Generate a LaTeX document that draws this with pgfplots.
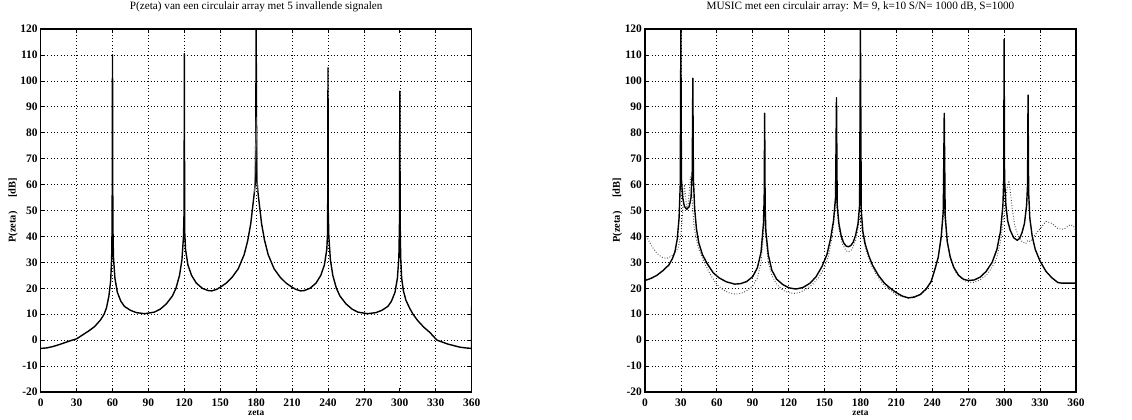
\documentclass[border=0pt]{standalone}
\usepackage{fontspec}
\setmainfont{Liberation Serif}
\usepackage{pgfplots}
\pgfplotsset{compat=1.18}

\pgfplotsset{
  matlab/.style={
    scale only axis,
    width=323.25pt, height=272.25pt,
    xmin=0, xmax=360, ymin=-20, ymax=120,
    xtick={0,30,...,360}, ytick={-20,-10,...,120},
    tick align=inside,
    major tick length=3pt,
    every tick/.style={black, line width=0.5pt},
    axis line style={black, line width=0.9pt},
    grid=major,
    major grid style={black, line width=0.45pt, dash pattern=on 0.5pt off 2pt},
    /pgf/number format/assume math mode=true,
    ticklabel style={font=\bfseries\fontsize{8.6}{9}\selectfont},
    xticklabel style={yshift=-1.5pt},
    yticklabel style={xshift=1.3pt},
    title style={at={(axis description cs:0.5,1)}, anchor=center, yshift=10.5pt,
      font=\fontsize{8.4}{9}\selectfont},
    xlabel style={at={(axis description cs:0.5,0)}, anchor=center, yshift=-15.8pt,
      font=\bfseries\fontsize{7}{8}\selectfont},
    ylabel style={at={(axis description cs:-0.064,0.5)}, anchor=center,
      font=\bfseries\fontsize{7.8}{8}\selectfont},
    xlabel={zeta},
    ylabel={P(zeta)\hspace{1.3em}[dB]},
  },
  solidcurve/.style={black, line width=1.05pt, line join=round},
  dotcurve/.style={black!75, line width=0.7pt, dash pattern=on 0.6pt off 1.4pt},
}

\begin{document}
\begin{tikzpicture}
\useasboundingbox (-30.5pt,-21pt) rectangle (818.5pt,294pt);

% left: P(zeta) with 5 signals
\begin{axis}[matlab, at={(0pt,0pt)}, anchor=south west,
  title={P(zeta) van een circulair array met 5 invallende signalen}]
\addplot[solidcurve] table {
0 -3.2
5 -3
10 -2.5
15 -1.8
20 -1
25 -0.2
30 0.5
35 2
40 3.5
45 5.2
50 7.8
53 10
55 12.5
57 17
58.5 23
59.3 32
59.7 45
60 110
60.3 45
60.8 32
62 24
64 18.5
67 15
70 13
75 11.5
80 10.6
87 10.2
95 10.8
100 12
105 14
110 17
113 20
116 25
118 31
119.3 40
119.8 50
120 110.5
120.3 42
121 35
123 29
126 25
130 22
135 20
140 19.1
143 19
147 19.6
150 20.4
155 22
160 24.3
165 27.5
170 33
173 38.5
175.5 45
177 51
178.5 57
179.5 62
180 120
180.5 62
181.5 57
183 51
184.5 45
187 38.5
190 33
195 27.5
200 24.3
205 22
210 20.4
213 19.6
217 19
220 19.1
225 20
230 22
234 25
237 29
239 35
239.7 42
240 105
240.2 50
240.7 40
242 31
244 25
247 20
250 17
255 14
260 12
265 10.8
273 10.2
280 10.6
285 11.5
290 13
293 15
296 18.5
298 24
299.2 32
299.7 45
300 96
300.3 45
300.7 32
301.5 24
303 19
305 15.5
308 12.5
311 10
315 7.5
320 5
325 3
331 0
340 -1.5
350 -2.7
355 -3
360 -3.2
360 13
};
\addplot[black!60, line width=0.5pt] table {
178.6 57
180 86
181.4 57
};
\end{axis}

% right: MUSIC
\begin{axis}[matlab, at={(453.2pt,0pt)}, anchor=south west,
  title={MUSIC met een circulair array: M= 9, k=10 S/N= 1000 dB, S=1000}]
\addplot[dotcurve] table {
0 41
3 38.5
6 36
10 33.5
14 32
18 31.5
22 32.3
25 33.5
28 36
30 41
31 46
32 53
33 60
34 55
35 50
36 52
37 57
38 63
39 58
40 50
41 44
42.5 40
45 35
50 29.5
55 25
60 21.5
65 19.5
70 18.3
75 17.8
80 18
85 19
90 21
94 24
97 30
99 40
100 48
101 40
103 30
106 25
110 21.5
115 19.3
120 18.3
125 18
130 18.5
135 19.8
140 21.5
145 24
150 28
153 32
156 39
158 46
159.5 55
160.5 50
162 43
165 37
168 34.5
170 34
173 35
176 38.5
178 43
179.5 48
180.5 45
182 40
185 34
190 28
195 24
200 21
210 17.5
220 16.2
230 17.5
235 19.5
240 24
244 30
247 38
249 47
250 50
251 45
253 37
256 30
260 26
265 23.5
270 22.3
275 22.3
280 23.3
285 25
290 28
294 32
297 38
299 45
301 53
303 60
304 61.5
305 58
307 50
309 44
312 40
315 38
318 37.2
320 38.5
322 38
325 40
330 43
335 45.8
340 45
345 43
350 42.8
355 44.5
358 44
360 42
};
\addplot[solidcurve] table {
0 23
5 23.8
10 25
15 26.8
20 29
23 31.5
25 34
27 39
28.5 47
29.5 60
30 120
30.5 62
31.5 55
33 51.5
35 50.5
37 51.5
38.5 55
39.5 65
40 101
40.5 62
41.5 51
43 43
45 37.5
48 33
52 29.5
57 26
62 24
68 22.5
75 21.6
80 21.8
85 22.6
90 24.5
94 28
97 34
99 45
99.6 55
100 87.5
100.4 52
101 42
103 33
106 27
110 23.5
115 21.5
120 20.2
126 19.7
132 20.3
138 22
143 24.5
148 28.5
152 33
155 39
157.5 46
159.2 55
160 93.5
160.6 52
162 45
164 40
166 37.5
168 36.3
170 36
172 36.5
174 37.8
176 40.5
178 45
179.3 52
180 120
180.7 50
182 42
184 37
187 32.5
190 29
195 25
200 22
205 20
210 18.3
215 17
220 16.3
225 16.6
230 17.6
235 19.8
239 22.5
242 27
245 32
247.5 40
249.2 50
250 87.5
250.8 48
252.5 38
255 32
258 28
262 25
266 23.5
270 23
275 23.2
280 24.3
285 26.5
290 30
294 35
297 42
299 52
299.7 62
300 116
300.4 62
301.5 52
303 46
305 42.5
308 39.5
311 38.5
313 39.3
315 41.5
317 45
318.8 52
319.6 60
320 94.5
320.5 57
321.5 47
323.5 40
326 35
330 30.5
335 26.5
340 24
345 22.2
348 22
360 22
};
\end{axis}
\end{tikzpicture}
\end{document}
